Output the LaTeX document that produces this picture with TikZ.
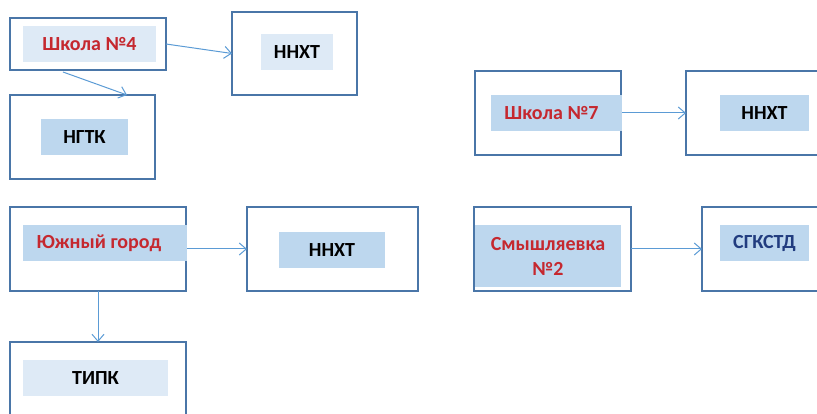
\documentclass[tikz,border=0pt]{standalone}
\usepackage{fontspec}
\setmainfont{Carlito}
\usetikzlibrary{arrows.meta,calc}
\definecolor{boxline}{HTML}{4A76A8}
\definecolor{arrowcol}{HTML}{5B9BD5}
\definecolor{lightfill}{HTML}{DEEAF6}
\definecolor{darkfill}{HTML}{BDD7EE}
\definecolor{redtext}{HTML}{C5282F}
\definecolor{bluetext}{HTML}{213C7F}
\tikzset{
  outerbox/.style={draw=boxline, line width=1.2pt, fill=white, anchor=north west,
    inner sep=0pt, outer sep=0pt},
  innerbox/.style={anchor=north west, inner sep=0pt, outer sep=0pt,
    font=\fontsize{20}{25}\selectfont\bfseries, align=center},
  lightbox/.style={innerbox, fill=lightfill},
  darkbox/.style={innerbox, fill=darkfill},
  link/.style={draw=arrowcol, line width=1pt, -{Straight Barb[length=7pt,width=12pt,line width=1pt]}}
}
\begin{document}
\begin{tikzpicture}[x=1pt,y=-1pt]
\useasboundingbox (0,0) rectangle (817,414);
\clip (0,0) rectangle (817,414);
% outer boxes
\node[outerbox, minimum width=156pt, minimum height=52pt] (A) at (10,18) {};
\node[outerbox, minimum width=125pt, minimum height=83pt] (B) at (232,12) {};
\node[outerbox, minimum width=145pt, minimum height=84pt] (C) at (10,95) {};
\node[outerbox, minimum width=146pt, minimum height=84pt] (D) at (475,71) {};
\node[outerbox, minimum width=140pt, minimum height=84pt] (E) at (686,71) {};
\node[outerbox, minimum width=157pt, minimum height=84pt] (F) at (474,207) {};
\node[outerbox, minimum width=130pt, minimum height=84pt] (G) at (702,207) {};
\node[outerbox, minimum width=176pt, minimum height=84pt] (H) at (10,207) {};
\node[outerbox, minimum width=171pt, minimum height=84pt] (I) at (247,207) {};
\node[outerbox, minimum width=176pt, minimum height=84pt] (J) at (10,342) {};
% connectors
\draw[link] (A.east) -- (B.west);
\draw[link] ($(A.south west)+(53,2)$) -- ($(C.north west)+(117,0)$);
\draw[link] (D.east) -- (E.west);
\draw[link] (F.east) -- (G.west);
\draw[link] (H.east) -- (I.west);
\draw[link] (H.south) -- (J.north);
% inner labels
\node[lightbox, minimum width=133pt, minimum height=36pt, text=redtext] (a) at (23,26) {Школа №4};
\node[lightbox, minimum width=72pt, minimum height=36pt] (b) at (261,34) {ННХТ};
\node[darkbox, minimum width=87pt, minimum height=36pt] (c) at (41,119) {НГТК};
\node[darkbox, minimum width=131pt, minimum height=36pt, text=redtext] (d) at (491,95) {Школа №7\hspace*{10pt}};
\node[darkbox, minimum width=89pt, minimum height=36pt] (e) at (720,95) {ННХТ};
\node[darkbox, minimum width=146pt, minimum height=62pt, text=redtext] (f) at (475,225) {Смышляевка\\№2};
\node[darkbox, minimum width=89pt, minimum height=36pt, text=bluetext] (g) at (720,225) {СГКСТД};
\node[darkbox, minimum width=164pt, minimum height=36pt, text=redtext] (h) at (23,225) {Южный город\hspace*{12pt}};
\node[darkbox, minimum width=106pt, minimum height=36pt] (i) at (279,232) {ННХТ};
\node[lightbox, minimum width=145pt, minimum height=36pt] (j) at (23,360) {ТИПК};
\end{tikzpicture}
\end{document}
